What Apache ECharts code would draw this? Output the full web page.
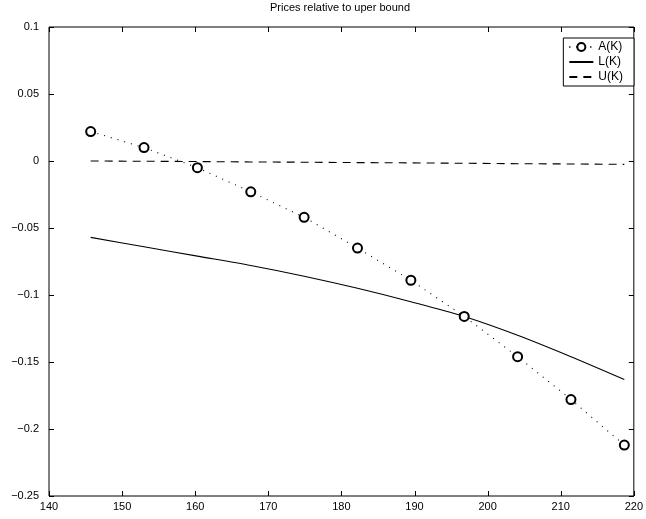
<!DOCTYPE html>
<html>
<head>
<meta charset="utf-8">
<script src="https://cdn.jsdelivr.net/npm/echarts@6/dist/echarts.min.js"></script>
<style>html,body{margin:0;padding:0;background:#fff}#c{width:646px;height:519px}</style>
</head>
<body>
<div id="c"></div>
<script>
var titleText = 'Prices relative to uper bound';
var strikes = [145.7, 153.0, 160.3, 167.6, 174.9, 182.2, 189.5, 196.8, 204.1, 211.4, 218.7];
var aValues = [0.022, 0.010, -0.005, -0.023, -0.042, -0.065, -0.089, -0.116, -0.146, -0.178, -0.212];
var lValues = [-0.057, -0.064, -0.071, -0.078, -0.086, -0.095, -0.105, -0.116, -0.130, -0.146, -0.163];
var uValues = [0.000, -0.0002, -0.0004, -0.0007, -0.0009, -0.0012, -0.0014, -0.0017, -0.0020, -0.0022, -0.0025];
var seriesNames = ['A(K)', 'L(K)', 'U(K)'];
var xTicks = [140, 150, 160, 170, 180, 190, 200, 210, 220];
var yTicks = [-0.25, -0.2, -0.15, -0.1, -0.05, 0, 0.05, 0.1];

function pairs(xs, ys) { return xs.map(function (x, i) { return [x, ys[i]]; }); }
function fmtY(v) { var s = (+v.toFixed(2)).toString(); return s.replace('-', '\u2212'); }

var font = 'Liberation Sans, Arial, sans-serif';
var chart = echarts.init(document.getElementById('c'), null, {renderer: 'canvas'});
chart.setOption({
  animation: false,
  backgroundColor: '#fff',
  textStyle: {fontFamily: font},
  title: {
    text: titleText, left: 340, top: 2, textAlign: 'center', padding: 0,
    textStyle: {fontSize: 11, fontWeight: 'normal', color: '#000', fontFamily: font}
  },
  grid: {left: 49, right: 11, top: 27, bottom: 23, show: true, borderColor: '#000', borderWidth: 1, backgroundColor: 'transparent'},
  legend: {
    orient: 'vertical', right: 12, top: 38, z: 10,
    backgroundColor: '#fff', borderColor: '#000', borderWidth: 1,
    padding: [3, 11, 3, 5], itemGap: 3, itemWidth: 24, itemHeight: 10,
    textStyle: {fontSize: 12, color: '#000', fontFamily: font},
    data: [
      {name: seriesNames[0]},
      {name: seriesNames[1], itemStyle: {opacity: 0}},
      {name: seriesNames[2], itemStyle: {opacity: 0}}
    ]
  },
  xAxis: {
    type: 'value', min: 140, max: 220, interval: 10, position: 'bottom',
    axisLine: {show: false, onZero: false}, splitLine: {show: false},
    axisTick: {show: false},
    axisLabel: {color: '#000', fontSize: 11, margin: 5, fontFamily: font}
  },
  yAxis: {
    type: 'value', min: -0.25, max: 0.1, interval: 0.05, position: 'left',
    axisLine: {show: false, onZero: false}, splitLine: {show: false},
    axisTick: {show: false},
    axisLabel: {color: '#000', fontSize: 11, margin: 10, formatter: fmtY, fontFamily: font}
  },
  series: [{
    name: seriesNames[0], type: 'line', data: pairs(strikes, aValues),
    symbol: 'emptyCircle', symbolSize: 9, showSymbol: true,
    itemStyle: {color: '#000', borderColor: '#000', borderWidth: 1},
    lineStyle: {color: '#000', width: 1.1, type: [1, 6]}
  }, {
    name: seriesNames[1], type: 'line', data: pairs(strikes, lValues),
    symbol: 'none', smooth: 0.3,
    itemStyle: {color: '#000'},
    lineStyle: {color: '#000', width: 1.1, type: 'solid'}
  }, {
    name: seriesNames[2], type: 'line', data: pairs(strikes, uValues),
    symbol: 'none',
    itemStyle: {color: '#000'},
    lineStyle: {color: '#000', width: 1.1, type: [8, 6]}
  }]
});

// Inside tick marks on all four sides, positioned through the chart's own scales
var tickLen = 5;
var xMin = xTicks[0], xMax = xTicks[xTicks.length - 1];
var yMin = yTicks[0], yMax = yTicks[yTicks.length - 1];
var finder = {xAxisIndex: 0, yAxisIndex: 0};
var els = [];
function seg(x1, y1, x2, y2) {
  els.push({type: 'line', z: 5, silent: true,
    shape: {x1: x1, y1: y1, x2: x2, y2: y2},
    style: {stroke: '#000', lineWidth: 1}});
}
xTicks.forEach(function (t) {
  var b = chart.convertToPixel(finder, [t, yMin]);
  var tp = chart.convertToPixel(finder, [t, yMax]);
  var x = Math.round(b[0]) + 0.5;
  seg(x, b[1], x, b[1] - tickLen);
  seg(x, tp[1], x, tp[1] + tickLen);
});
yTicks.forEach(function (t) {
  var l = chart.convertToPixel(finder, [xMin, t]);
  var r = chart.convertToPixel(finder, [xMax, t]);
  var y = Math.round(l[1]) + 0.5;
  seg(l[0], y, l[0] + tickLen, y);
  seg(r[0], y, r[0] - tickLen, y);
});
chart.setOption({graphic: {elements: els}});
</script>
</body>
</html>
